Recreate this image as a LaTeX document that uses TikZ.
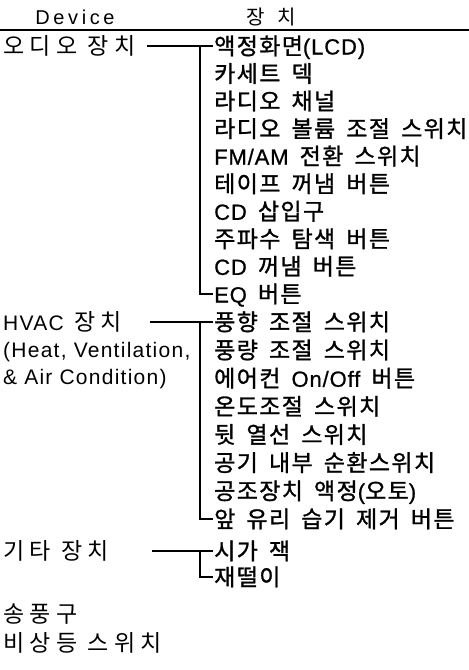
\documentclass[tikz,border=0pt]{standalone}
\usepackage{fontspec}
\setmainfont{Noto Sans CJK KR}[LetterSpace=23]
\newfontfamily\krb{Noto Sans CJK KR}[LetterSpace=6, WordSpace=1.7, FakeBold=1.2]
\newfontfamily\lat{Liberation Sans}[LetterSpace=6]
\newfontfamily\latb{Liberation Sans}[LetterSpace=4, FakeBold=0.8]
\newfontfamily\hdrlat{Liberation Sans}[LetterSpace=18]
\newfontfamily\hdrkr{Noto Sans CJK KR}[LetterSpace=60]
\usetikzlibrary{calc}
\tikzset{
  lbl/.style={anchor=base west, inner sep=0pt, font=\fontsize{23}{27}\selectfont},
  itm/.style={anchor=base west, inner sep=0pt, font=\fontsize{23}{27}\krb},
  hdr/.style={anchor=base, inner sep=0pt, font=\fontsize{20}{24}\selectfont},
  conn/.style={line width=1.4pt, black},
  rule/.style={line width=1.8pt, black}
}
\newcommand{\la}[1]{{\fontsize{21}{26}\lat #1}}
\newcommand{\lb}[1]{{\fontsize{22}{26}\latb #1}}
\begin{document}
\begin{tikzpicture}[x=1pt, y=-1pt]
\useasboundingbox (0,0) rectangle (469,670);
% header
\node[hdr] (hd) at (75,24) {\hdrlat Device};
\node[hdr] (hk) at (271,24) {\hdrkr 장치};
\coordinate (r0) at (0,30);
\coordinate (r1) at (469,30);
\draw[rule] (r0) -- (r1);
% audio
\node[lbl] (l1) at (3,54.5) {오디오 장치};
\node[itm] (a1) at (214,54.5) {액정화면\lb{(LCD)}};
\node[itm] (a2) at (214,82.1) {카세트 덱};
\node[itm] (a3) at (214,109.6) {라디오 채널};
\node[itm] (a4) at (214,137.2) {라디오 볼륨 조절 스위치};
\node[itm] (a5) at (214,164.7) {\lb{FM/AM} 전환 스위치};
\node[itm] (a6) at (214,192.3) {테이프 꺼냄 버튼};
\node[itm] (a7) at (214,219.8) {\lb{CD} 삽입구};
\node[itm] (a8) at (214,247.4) {주파수 탐색 버튼};
\node[itm] (a9) at (214,274.9) {\lb{CD} 꺼냄 버튼};
\node[itm] (a10) at (214,302.5) {\lb{EQ} 버튼};
\coordinate (s1) at (147,46);
\coordinate (j1) at (200,46);
\coordinate (t1) at (213,46);
\coordinate (b1) at (213,294);
\draw[conn] (s1) -- (t1);
\draw[conn] (j1) |- (b1);
% HVAC
\node[lbl] (l2) at (3,330.5) {\la{HVAC} 장치};
\node[lbl] (l2b) at (3,357.5) {\la{(Heat, Ventilation,}};
\node[lbl] (l2c) at (3,384.5) {\la{\& Air Condition)}};
\node[itm] (h1) at (214,330.5) {풍향 조절 스위치};
\node[itm] (h2) at (214,358.6) {풍량 조절 스위치};
\node[itm] (h3) at (214,386.8) {에어컨 \lb{On/Off} 버튼};
\node[itm] (h4) at (214,414.9) {온도조절 스위치};
\node[itm] (h5) at (214,443.1) {뒷 열선 스위치};
\node[itm] (h6) at (214,471.2) {공기 내부 순환스위치};
\node[itm] (h7) at (214,499.4) {공조장치 액정\lb{(}오토\lb{)}};
\node[itm] (h8) at (214,527.5) {앞 유리 습기 제거 버튼};
\coordinate (s2) at (150,322);
\coordinate (j2) at (200,322);
\coordinate (t2) at (213,322);
\coordinate (b2) at (213,519);
\draw[conn] (s2) -- (t2);
\draw[conn] (j2) |- (b2);
% other
\node[lbl] (l3) at (3,559.5) {기타 장치};
\node[itm] (o1) at (214,559.5) {시가 잭};
\node[itm] (o2) at (214,585.5) {재떨이};
\coordinate (s3) at (152,551);
\coordinate (j3) at (200,551);
\coordinate (t3) at (213,551);
\coordinate (b3) at (213,577);
\draw[conn] (s3) -- (t3);
\draw[conn] (j3) |- (b3);
% single
\node[lbl] (l4) at (3,622.5) {송풍구};
\node[lbl] (l5) at (3,651.5) {비상등 스위치};
\end{tikzpicture}
\end{document}
